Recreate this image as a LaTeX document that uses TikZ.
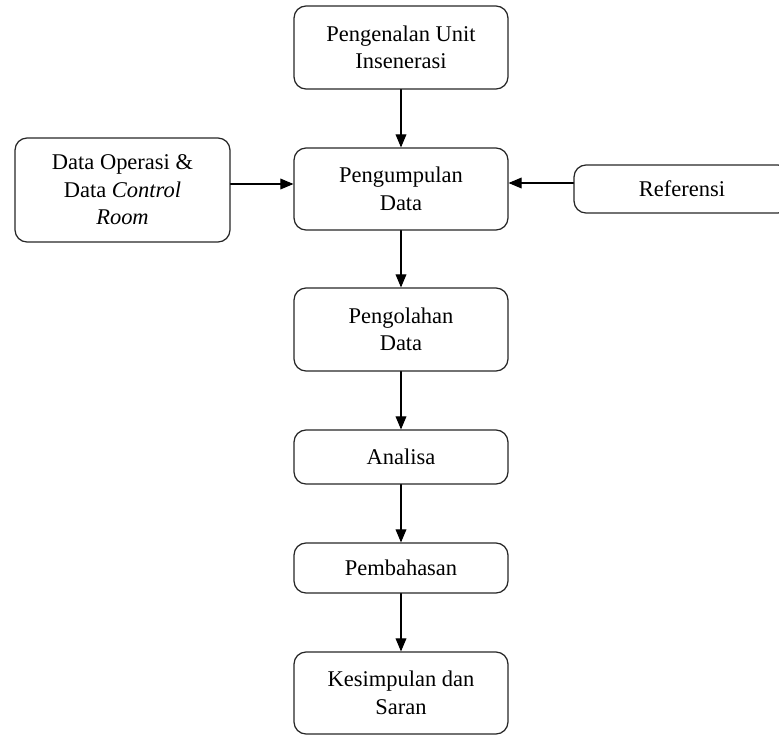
\documentclass[tikz,border=0pt]{standalone}
\usepackage{fontspec}
\setmainfont{Liberation Serif}
\usetikzlibrary{arrows}

\tikzset{
  kotak/.style={draw=black!85,line width=0.7pt,rounded corners=0.24cm,align=center,
    font=\fontsize{12.8}{15.6}\selectfont,inner sep=0pt},
  panah/.style={->,>=triangle 45,line width=0.7pt}
}

\begin{document}
\begin{tikzpicture}[line cap=round,line join=round,x=0.02cm,y=-0.02cm]
		\clip (0,0) rectangle (779,735);
		\node[kotak,minimum width=4.28cm,minimum height=1.66cm] (unit) at (401,47.5) {Pengenalan Unit\\Insenerasi};
		\node[kotak,minimum width=4.28cm,minimum height=1.64cm] (kumpul) at (401,189) {Pengumpulan\\Data};
		\node[kotak,minimum width=4.30cm,minimum height=2.08cm] (dataop) at (122.5,190) {Data Operasi \&\\Data \textit{Control}\\\textit{Room}};
		\node[kotak,minimum width=4.32cm,minimum height=0.96cm] (ref) at (682,189) {Referensi};
		\node[kotak,minimum width=4.28cm,minimum height=1.66cm] (olah) at (401,329.5) {Pengolahan\\Data};
		\node[kotak,minimum width=4.28cm,minimum height=1.08cm] (analisa) at (401,457) {Analisa};
		\node[kotak,minimum width=4.28cm,minimum height=1.0cm] (bahas) at (401,568) {Pembahasan};
		\node[kotak,minimum width=4.28cm,minimum height=1.64cm] (simpul) at (401,693) {Kesimpulan dan\\Saran};
		% alur utama
		\draw[panah] (unit) -- (kumpul);
		\draw[panah] (kumpul) -- (olah);
		\draw[panah] (olah) -- (analisa);
		\draw[panah] (analisa) -- (bahas);
		\draw[panah] (bahas) -- (simpul);
		% masukan samping
		\draw[panah] ([yshift=0.12cm]dataop.east) -- ([yshift=0.12cm]dataop.east -| kumpul.west);
		\draw[panah] ([yshift=0.12cm]ref.west) -- ([yshift=0.12cm]ref.west -| kumpul.east);
	\end{tikzpicture}
\end{document}
